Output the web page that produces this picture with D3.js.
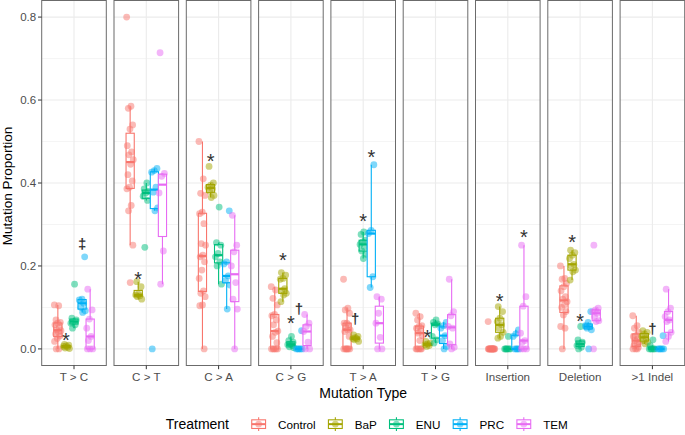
<!DOCTYPE html>
<html><head><meta charset="utf-8">
<script src="https://cdn.jsdelivr.net/npm/d3@7"></script>
<style>
body{margin:0;background:#fff}
svg{display:block}
text{font-family:"Liberation Sans",Arial,Helvetica,sans-serif}
</style>
</head><body>
<svg id="chart" width="685" height="435"></svg>
<script>
// ---------------- data ----------------
const mutationTypes = ["T > C","C > T","C > A","C > G","T > A","T > G","Insertion","Deletion",">1 Indel"];
const treatments = ["Control","BaP","ENU","PRC","TEM"];
const treatmentColors = ["#F8766D","#A3A500","#00BF7D","#00B0F6","#E76BF3"];
const yTickValues = [0,0.2,0.4,0.6,0.8];
const yTickLabels = ["0.0","0.2","0.4","0.6","0.8"];
const yMinorValues = [0.1,0.3,0.5,0.7];

// each: [Control, BaP, ENU, PRC, TEM]
const valuesTtoC = [
  [0.106,0.104,0.07,0.064,0.062,0.058,0.052,0.046,0.044,0.04,0.036,0.031,0.025,0.018,0,0],
  [0.011,0.009,0.007,0.006,0.004,0.002,0.001],
  [0.156,0.074,0.07,0.066,0.062,0.058,0.05],
  [0.222,0.12,0.118,0.11,0.1,0.092,0.088],
  [0.144,0.094,0.072,0.05,0.03,0.02,0,0,0]
];
const valuesCtoT = [
  [0.8,0.585,0.58,0.54,0.53,0.49,0.475,0.468,0.456,0.445,0.42,0.405,0.39,0.386,0.346,0.333,0.25,0.16],
  [0.162,0.15,0.132,0.13,0.128,0.126,0.12],
  [0.4,0.386,0.38,0.376,0.368,0.358,0.245],
  [0.435,0.43,0.426,0.39,0.378,0.34,0.333,0],
  [0.714,0.423,0.416,0.376,0.236,0.156]
];
const valuesCtoA = [
  [0.5,0.41,0.375,0.37,0.33,0.326,0.302,0.254,0.25,0.226,0.222,0.21,0.19,0.17,0.14,0.134,0.126,0.106,0.104,0],
  [0.44,0.4,0.395,0.39,0.386,0.38,0.37,0.365],
  [0.342,0.256,0.25,0.23,0.222,0.21,0.2,0.156],
  [0.333,0.21,0.205,0.176,0.165,0.154,0.096],
  [0.322,0.25,0.234,0.2,0.16,0.12,0.096,0]
];
const valuesCtoG = [
  [0.15,0.142,0.122,0.106,0.083,0.08,0.07,0.058,0.043,0.04,0.03,0.015,0,0,0,0,0],
  [0.184,0.178,0.17,0.168,0.145,0.14,0.134,0.13,0.114],
  [0.03,0.02,0.016,0.012,0.01,0.008,0.005,0.003],
  [0.044,0,0,0,0,0],
  [0.083,0.062,0.054,0.042,0.016,0,0]
];
const valuesTtoA = [
  [0.168,0.098,0.094,0.086,0.062,0.062,0.058,0.052,0.046,0.046,0.042,0.03,0,0,0,0,0,0],
  [0.034,0.03,0.027,0.025,0.024,0.022,0.018],
  [0.282,0.276,0.262,0.258,0.252,0.246,0.236,0.228,0.218],
  [0.444,0.286,0.278,0.174,0.148],
  [0.126,0.12,0.086,0.062,0.028,0,0]
];
const valuesTtoG = [
  [0.086,0.078,0.07,0.056,0.054,0.05,0.044,0.038,0.032,0.02,0,0,0,0,0],
  [0.018,0.014,0.012,0.01,0.008,0.006],
  [0.07,0.064,0.06,0.058,0.03,0.022,0.014],
  [0.064,0.056,0.05,0.032,0.02,0.006,0],
  [0.168,0.09,0.08,0.054,0.05,0.012,0.004,0]
];
const valuesInsertion = [
  [0.066,0,0,0,0,0,0,0,0,0,0,0,0,0,0],
  [0.102,0.09,0.074,0.066,0.058,0.05,0.04,0.03,0.026],
  [0.03,0,0,0,0,0,0],
  [0.046,0.036,0.03,0,0,0,0],
  [0.25,0.126,0.103,0.038,0.02,0.016,0,0,0]
];
const valuesDeletion = [
  [0.2,0.17,0.168,0.158,0.15,0.14,0.126,0.12,0.114,0.106,0.1,0.09,0.082,0.054,0.05,0],
  [0.238,0.232,0.226,0.218,0.204,0.2,0.19,0.186,0.166],
  [0.054,0.022,0.016,0.012,0.008,0.004,0],
  [0.09,0.064,0.056,0.054,0.05,0.046,0],
  [0.25,0.098,0.094,0.09,0.086,0.078,0.068,0.066,0]
];
const valuesIndel = [
  [0.08,0.056,0.05,0.04,0.032,0.03,0.024,0.02,0.016,0.012,0.008,0.004,0,0,0],
  [0.044,0.04,0.036,0.03,0.026,0.02,0.016,0.012],
  [0.022,0.008,0,0,0,0,0],
  [0.032,0,0,0,0,0],
  [0.144,0.098,0.09,0.078,0.07,0.066,0.04,0.03,0.018]
];
const valuesByType = [valuesTtoC,valuesCtoT,valuesCtoA,valuesCtoG,valuesTtoA,valuesTtoG,valuesInsertion,valuesDeletion,valuesIndel];

// significance marks
const markType      = ["T > C","T > C","C > T","C > A","C > G","C > G","C > G","T > A","T > A","T > A","T > G","Insertion","Insertion","Deletion","Deletion",">1 Indel"];
const markTreatment = ["BaP","PRC","BaP","BaP","BaP","ENU","PRC","BaP","ENU","PRC","BaP","BaP","TEM","BaP","ENU","ENU"];
const markSymbol    = ["*","‡","*","*","*","*","†","†","*","*","*","*","*","*","*","†"];
const markValue     = [0.032,0.252,0.178,0.463,0.224,0.072,0.094,0.07,0.318,0.472,0.038,0.124,0.28,0.268,0.078,0.047];

// ---------------- layout ----------------
const svg = d3.select("#chart");
const plotLeft = 41.7, plotRight = 684.7, plotTop = 0.5, plotBottom = 365.5;

const y = d3.scaleLinear().domain([-0.04,0.84]).range([plotBottom, plotTop]);
const xPanel = d3.scaleBand().domain(mutationTypes).range([plotLeft, plotRight])
  .paddingInner(7.7/72.3).paddingOuter(0);
const bw = xPanel.bandwidth();
const xDodge = d3.scalePoint().domain(treatments).range([-bw*0.25, bw*0.25]);
const color = d3.scaleOrdinal().domain(treatments).range(treatmentColors);

function boxStats(v){
  const s = v.slice().sort(d3.ascending);
  const q1 = d3.quantile(s,0.25), med = d3.quantile(s,0.5), q3 = d3.quantile(s,0.75);
  const iqr = q3 - q1;
  const eps = 1e-9;
  const lo = d3.min(s.filter(d => d >= q1 - 1.5*iqr - eps));
  const hi = d3.max(s.filter(d => d <= q3 + 1.5*iqr + eps));
  return {q1, med, q3, lo, hi};
}

const boxW = 8.2;
const panels = svg.selectAll("g.panel").data(mutationTypes).join("g")
  .attr("class","panel").attr("transform", d => `translate(${xPanel(d)},0)`);

// background + grid
panels.append("rect").attr("x",0).attr("y",plotTop).attr("width",bw).attr("height",plotBottom-plotTop).attr("fill","#fff");
panels.each(function(){
  const g = d3.select(this);
  g.selectAll("line.minor").data(yMinorValues).join("line")
    .attr("x1",0).attr("x2",bw).attr("y1",d=>y(d)).attr("y2",d=>y(d))
    .attr("stroke","#EBEBEB").attr("stroke-width",0.55);
  g.selectAll("line.major").data(yTickValues).join("line")
    .attr("x1",0).attr("x2",bw).attr("y1",d=>y(d)).attr("y2",d=>y(d))
    .attr("stroke","#EBEBEB").attr("stroke-width",1.1);
  g.append("line").attr("x1",bw/2).attr("x2",bw/2).attr("y1",plotTop).attr("y2",plotBottom)
    .attr("stroke","#EBEBEB").attr("stroke-width",1.1);
});

// boxplots and points
panels.each(function(type, ti){
  const g = d3.select(this);
  const series = valuesByType[ti];
  treatments.forEach((tr, k) => {
    const vals = series[k];
    const st = boxStats(vals);
    const cx = bw/2 + xDodge(tr);
    const c = color(tr);
    const bg = g.append("g");
    bg.append("line").attr("x1",cx).attr("x2",cx).attr("y1",y(st.hi)).attr("y2",y(st.q3))
      .attr("stroke",c).attr("stroke-width",1.1);
    bg.append("line").attr("x1",cx).attr("x2",cx).attr("y1",y(st.q1)).attr("y2",y(st.lo))
      .attr("stroke",c).attr("stroke-width",1.1);
    bg.append("rect").attr("x",cx-boxW/2).attr("width",boxW)
      .attr("y",y(st.q3)).attr("height",Math.max(0,y(st.q1)-y(st.q3)))
      .attr("fill","#fff").attr("stroke",c).attr("stroke-width",1.1);
    bg.append("line").attr("x1",cx-boxW/2).attr("x2",cx+boxW/2).attr("y1",y(st.med)).attr("y2",y(st.med))
      .attr("stroke",c).attr("stroke-width",2.2);
    g.append("g").selectAll("circle").data(vals).join("circle")
      .attr("cx",(d,i) => cx + (((i*0.618034 + k*0.29) % 1) - 0.5) * 7)
      .attr("cy",d => y(d)).attr("r",3.4)
      .attr("fill",c).attr("fill-opacity",0.5);
  });
});

// marks
const markStyle = {"*":{fs:20, k:0.55, w:"normal"}, "†":{fs:15, k:0.3, w:"bold"}, "‡":{fs:15, k:0.3, w:"bold"}};
markType.forEach((t,i) => {
  const st = markStyle[markSymbol[i]];
  svg.append("text")
    .attr("x", xPanel(t) + bw/2 + xDodge(markTreatment[i]))
    .attr("y", y(markValue[i]) + st.k*st.fs)
    .attr("text-anchor","middle").attr("font-size",st.fs).attr("font-weight",st.w).attr("fill","#333")
    .text(markSymbol[i]);
});

// panel borders
panels.append("rect").attr("x",0).attr("y",plotTop).attr("width",bw).attr("height",plotBottom-plotTop)
  .attr("fill","none").attr("stroke","#6b6b6b").attr("stroke-width",1);

// y axis
const yAxis = svg.append("g");
yTickValues.forEach((v,i) => {
  yAxis.append("line").attr("x1",plotLeft-3.7).attr("x2",plotLeft).attr("y1",y(v)).attr("y2",y(v))
    .attr("stroke","#333").attr("stroke-width",1);
  yAxis.append("text").attr("x",plotLeft-5.5).attr("y",y(v)).attr("dy","0.36em")
    .attr("text-anchor","end").attr("font-size",11.5).attr("fill","#4D4D4D").text(yTickLabels[i]);
});
svg.append("text").attr("transform",`translate(12,186) rotate(-90)`)
  .attr("text-anchor","middle").attr("font-size",13.6).attr("fill","#000").text("Mutation Proportion");

// x axis
mutationTypes.forEach(t => {
  const cx = xPanel(t) + bw/2;
  svg.append("line").attr("x1",cx).attr("x2",cx).attr("y1",plotBottom).attr("y2",plotBottom+3.7)
    .attr("stroke","#333").attr("stroke-width",1);
  svg.append("text").attr("x",cx).attr("y",380.7).attr("text-anchor","middle")
    .attr("font-size",11.6).attr("fill","#4D4D4D").text(t);
});
svg.append("text").attr("x",(plotLeft+plotRight)/2).attr("y",398).attr("text-anchor","middle")
  .attr("font-size",14).attr("fill","#000").text("Mutation Type");

// legend
const leg = svg.append("g");
leg.append("text").attr("x",229).attr("y",429).attr("text-anchor","end").attr("font-size",14).attr("fill","#000").text("Treatment");
let lx = 250;
const keyW = 17.3, keyTop = 415.5, keyH = 17.3;
treatments.forEach((tr,k) => {
  const c = color(tr);
  const kx = lx + keyW/2;
  leg.append("line").attr("x1",kx).attr("x2",kx).attr("y1",keyTop+keyH*0.1).attr("y2",keyTop+keyH*0.9)
    .attr("stroke",c).attr("stroke-width",1.1);
  leg.append("rect").attr("x",lx+keyW*0.1).attr("y",keyTop+keyH*0.25).attr("width",keyW*0.8).attr("height",keyH*0.5)
    .attr("fill","#fff").attr("stroke",c).attr("stroke-width",1.1);
  leg.append("line").attr("x1",lx+keyW*0.1).attr("x2",lx+keyW*0.9).attr("y1",keyTop+keyH/2).attr("y2",keyTop+keyH/2)
    .attr("stroke",c).attr("stroke-width",2);
  leg.append("circle").attr("cx",kx).attr("cy",keyTop+keyH/2).attr("r",3.3).attr("fill",c).attr("fill-opacity",0.5);
  const txt = leg.append("text").attr("x",lx+28).attr("y",429).attr("font-size",11.7).attr("fill","#000").text(tr);
  const w = txt.node().getComputedTextLength();
  lx = lx + 28 + w + 11;
});
</script>
</body></html>
